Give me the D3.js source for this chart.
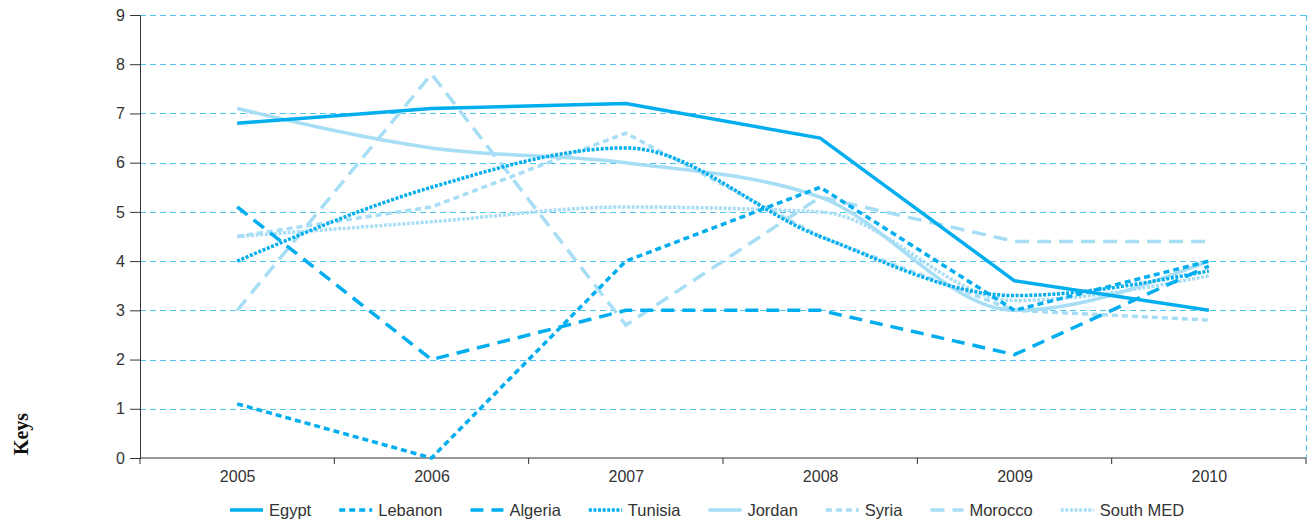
<!DOCTYPE html>
<html>
<head>
    <meta charset="utf-8">
    <title>Keys</title>
    <script src="https://cdn.jsdelivr.net/npm/d3@7"></script>
    <style>
        body { margin: 0; background: #fff; }
    </style>
</head>
<body>
    <script type="text/javascript">
        // data
        var years = ["2005", "2006", "2007", "2008", "2009", "2010"];
        var yTicks = [0, 1, 2, 3, 4, 5, 6, 7, 8, 9];
        var names = ["Egypt", "Lebanon", "Algeria", "Tunisia", "Jordan", "Syria", "Morocco", "South MED"];
        var egypt    = [6.8, 7.1, 7.2, 6.5, 3.6, 3.0];
        var lebanon  = [1.1, 0.0, 4.0, 5.5, 3.0, 4.0];
        var algeria  = [5.1, 2.0, 3.0, 3.0, 2.1, 3.9];
        var tunisia  = [4.0, 5.5, 6.3, 4.5, 3.3, 3.8];
        var jordan   = [7.1, 6.3, 6.0, 5.3, 3.0, 4.0];
        var syria    = [4.5, 5.1, 6.6, 4.5, 3.0, 2.8];
        var morocco  = [3.0, 7.8, 2.7, 5.3, 4.4, 4.4];
        var southMed = [4.5, 4.8, 5.1, 5.0, 3.2, 3.7];
        var seriesValues = [egypt, lebanon, algeria, tunisia, jordan, syria, morocco, southMed];

        // styles per series (colour, dash, smoothing)
        var dark = "#00aeef", light = "#a7def6";
        var styles = [
            {color: dark,  dash: null,    smooth: false},
            {color: dark,  dash: "6,4",   smooth: false},
            {color: dark,  dash: "13,8",  smooth: false},
            {color: dark,  dash: "3,1.6", smooth: true},
            {color: light, dash: null,    smooth: true},
            {color: light, dash: "6,4",   smooth: false},
            {color: light, dash: "14,8",  smooth: false},
            {color: light, dash: "3,1.6", smooth: true}
        ];

        var w = 1308, h = 521;
        // note: "top" is taken by window.top, so use plot* names
        var plotLeft = 140, plotRight = 1306, plotTop = 15, plotBottom = 458;
        var sans = "Liberation Sans, Arial, sans-serif";

        var svg = d3.select("body").append("svg")
            .attr("width", w)
            .attr("height", h);

        var xBand = d3.scaleBand().domain(years).range([plotLeft, plotRight]);
        var x = d3.scalePoint().domain(years).range([plotLeft, plotRight]).padding(0.5);
        var y = d3.scaleLinear().domain([0, 9]).range([plotBottom, plotTop]);

        // dashed gridlines
        svg.append("g").selectAll("line")
            .data(yTicks.filter(function(d){ return d > 0; }))
            .enter().append("line")
            .attr("x1", plotLeft).attr("x2", plotRight)
            .attr("y1", function(d){ return Math.round(y(d)) + 0.5; })
            .attr("y2", function(d){ return Math.round(y(d)) + 0.5; })
            .attr("stroke", "#4fc6f1")
            .attr("stroke-width", 1)
            .attr("stroke-dasharray", "6,4");
        // right edge
        svg.append("line")
            .attr("x1", plotRight + 0.5).attr("x2", plotRight + 0.5)
            .attr("y1", plotTop).attr("y2", plotBottom)
            .attr("stroke", "#4fc6f1")
            .attr("stroke-dasharray", "6,4");

        // y axis
        var yAxis = svg.append("g")
            .attr("transform", "translate(" + plotLeft + ",0)")
            .call(d3.axisLeft(y).tickValues(yTicks).tickSize(10).tickPadding(5));
        // x axis, ticks at category boundaries
        var xAxis = svg.append("g")
            .attr("transform", "translate(0," + plotBottom + ")")
            .call(d3.axisBottom(x).tickSize(0).tickPadding(13));
        xAxis.selectAll(".bound")
            .data(years.concat(["end"]))
            .enter().append("line")
            .attr("x1", function(d, i){ return plotLeft + i * xBand.step(); })
            .attr("x2", function(d, i){ return plotLeft + i * xBand.step(); })
            .attr("y1", 0).attr("y2", 6)
            .attr("stroke", "#333");
        [yAxis, xAxis].forEach(function(a){
            a.select(".domain").attr("stroke", "#333");
            a.selectAll(".tick line").attr("stroke", "#333");
            a.selectAll("text")
                .attr("font-family", sans)
                .attr("font-size", "16px")
                .attr("fill", "#333");
        });
        xAxis.select(".domain").attr("d", "M" + plotLeft + ",0H" + plotRight);

        // the lines
        var lineOf = function(smooth) {
            return d3.line()
                .x(function(d, i){ return x(years[i]); })
                .y(function(d){ return y(d); })
                .curve(smooth ? d3.curveMonotoneX : d3.curveLinear);
        };
        var order = [7, 6, 5, 4, 3, 2, 1, 0];
        svg.append("g").selectAll("path")
            .data(order)
            .enter().append("path")
            .attr("d", function(k){ return lineOf(styles[k].smooth)(seriesValues[k]); })
            .attr("fill", "none")
            .attr("stroke", function(k){ return styles[k].color; })
            .attr("stroke-width", 3.5)
            .attr("stroke-dasharray", function(k){ return styles[k].dash; });

        // legend
        var legend = svg.append("g");
        var lx = 230, ly = 510;
        names.forEach(function(n, k){
            legend.append("line")
                .attr("x1", lx).attr("x2", lx + 33)
                .attr("y1", ly).attr("y2", ly)
                .attr("stroke", styles[k].color)
                .attr("stroke-width", 3.5)
                .attr("stroke-dasharray", styles[k].dash);
            var t = legend.append("text")
                .text(n)
                .attr("x", lx + 39)
                .attr("y", ly + 6)
                .attr("font-family", sans)
                .attr("font-size", "16.5px")
                .attr("fill", "#333");
            lx = lx + 39 + t.node().getComputedTextLength() + 28;
        });

        // side label
        svg.append("text")
            .text("Keys")
            .attr("transform", "translate(28,434) rotate(-90)")
            .attr("text-anchor", "middle")
            .attr("font-family", "Liberation Serif, Times New Roman, serif")
            .attr("font-weight", "bold")
            .attr("font-size", "20px")
            .attr("fill", "#111");
    </script>
</body>
</html>
